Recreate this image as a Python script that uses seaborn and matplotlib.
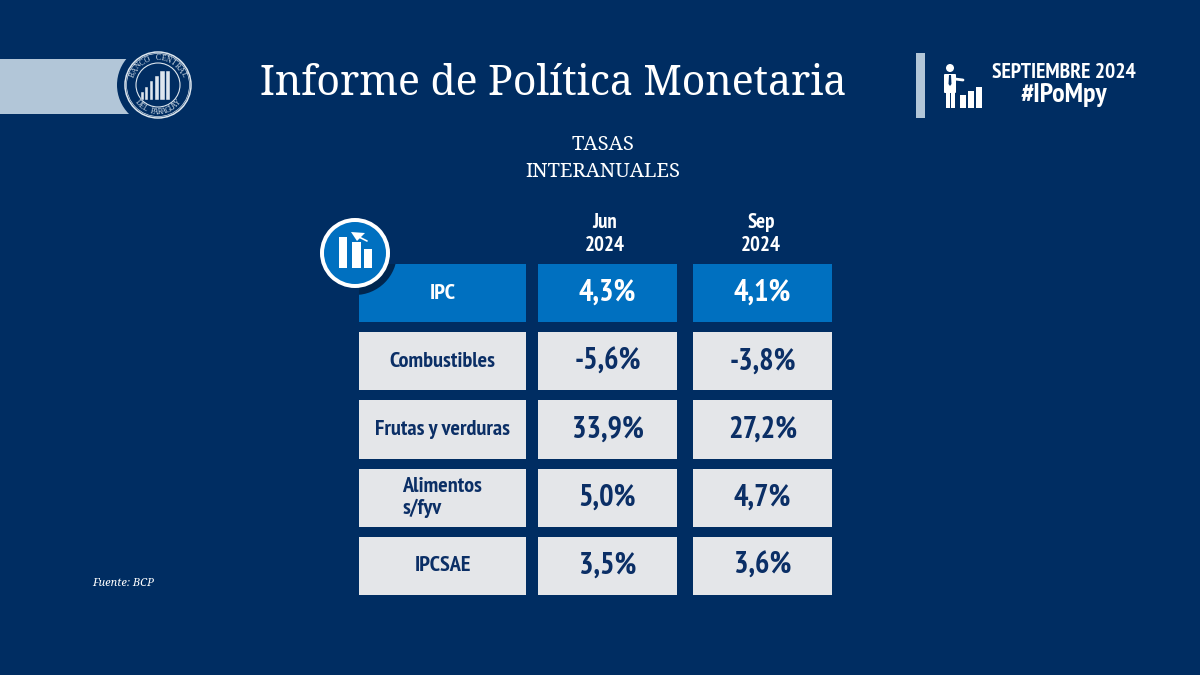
import numpy as np
import matplotlib
matplotlib.use('Agg')
import matplotlib.pyplot as plt
import seaborn as sns
from matplotlib import font_manager as fm
from matplotlib.colors import ListedColormap
from matplotlib.patches import Circle, Rectangle, Polygon, FancyBboxPatch

# Table data
categories = ['IPC', 'Combustibles', 'Frutas y verduras', 'Alimentos\ns/fyv', 'IPCSAE']
jun_2024 = [4.3, -5.6, 33.9, 5.0, 3.5]
sep_2024 = [4.1, -3.8, 27.2, 4.7, 3.6]
col_headers = ['Jun\n2024', 'Sep\n2024']
headline_row = [1, 0, 0, 0, 0]

BG = '#002D62'
BLUE = '#0070C0'
GREY = '#E4E6E9'
NAVY = '#0B2F66'
PALE = '#B2C6D8'

sns.set_theme(style='white')

# narrow face if the machine has one, otherwise shrink Open Sans so it still fits
installed = {f.name for f in fm.fontManager.ttflist}
NARROW = 'PT Sans Narrow' if 'PT Sans Narrow' in installed else 'Open Sans'
k = 1.0 if NARROW == 'PT Sans Narrow' else 0.78
SERIF = 'Noto Serif' if 'Noto Serif' in installed else 'Liberation Serif'
k_serif = 1.0 if SERIF == 'Noto Serif' else 1.14

W, H = 1200, 675
fig = plt.figure(figsize=(12, 6.75), dpi=100, facecolor=BG)

# full figure layer in pixel coords for the header and icons
bg = fig.add_axes([0, 0, 1, 1], zorder=0)
bg.set_xlim(0, W)
bg.set_ylim(H, 0)
bg.axis('off')


def table_col(x0, x1, labels):
    # 10px lines between cells, half of it sits outside the cell
    ax = fig.add_axes([(x0 - 5) / W, 1 - 600 / H, (x1 - x0 + 10) / W, 341 / H], zorder=1)
    ax.patch.set_alpha(0)
    cell = np.array(headline_row).reshape(-1, 1)
    txt = np.array(labels, dtype=object).reshape(-1, 1)
    sns.heatmap(cell, ax=ax, cmap=ListedColormap([GREY, BLUE]), vmin=0, vmax=1, cbar=False,
                annot=txt, fmt='', linewidths=7.2, linecolor=BG,
                xticklabels=False, yticklabels=False)
    for t, flag in zip(ax.texts, headline_row):
        t.set_color('white' if flag else NAVY)
    return ax


def pct(vals):
    return [f'{v:.1f}%'.replace('.', ',') for v in vals]


ax_cat = table_col(359, 526, categories)
ax_jun = table_col(538, 677, pct(jun_2024))
ax_sep = table_col(693, 832, pct(sep_2024))
for t in ax_cat.texts:
    t.set(family=NARROW, weight='bold', fontsize=16 * k, multialignment='left', linespacing=1.2)
for ax in (ax_jun, ax_sep):
    for t in ax.texts:
        t.set(family=NARROW, weight='bold', fontsize=22 * k)

# titles
bg.text(553, 84, 'Informe de Política Monetaria', family=SERIF, weight='bold', fontsize=29.5 * k_serif,
        color='white', ha='center', va='center')
bg.text(603, 145, 'TASAS', family=SERIF, weight='bold', fontsize=14.5 * k_serif, color='white', ha='center', va='center')
bg.text(603, 172, 'INTERANUALES', family=SERIF, weight='bold', fontsize=14.5 * k_serif, color='white', ha='center', va='center')
for cx, label in zip([605, 761], col_headers):
    bg.text(cx, 234, label, family=NARROW, weight='bold', fontsize=15 * k, color='white',
            ha='center', va='center', linespacing=1.25)
bg.text(92, 584, 'Fuente: BCP', family=SERIF, style='italic', fontsize=8, color='white', ha='left', va='center')

# left banner and seal
bg.add_patch(Rectangle((0, 59), 135, 55, color=PALE, lw=0))
bg.add_patch(Circle((158, 85), 41, color=BG, lw=0))
bg.add_patch(Circle((158, 85), 33, fc='none', ec='#DDE6EE', lw=1.1))
bg.add_patch(Circle((158, 85), 31.5, fc='none', ec='#DDE6EE', lw=0.5))
bg.add_patch(Circle((158, 85), 22, fc='none', ec='#DDE6EE', lw=0.8))
for x, top_y, bw in [(141, 92, 3), (145, 87, 3), (150, 81, 3), (155, 76, 4), (160, 71, 5), (166, 71, 4)]:
    bg.add_patch(Rectangle((x, top_y), bw, 100 - top_y, fc='#DDE6EE', ec=BG, lw=0.3))


def arc_text(s, start, end, flip=False):
    for ch, a in zip(s, np.linspace(start, end, len(s))):
        r = np.radians(a)
        rot = a - 90 if not flip else a + 90
        bg.text(158 + 27 * np.cos(r), 85 - 27 * np.sin(r), ch, family='Liberation Serif', fontsize=5.5,
                color='#DDE6EE', rotation=rot, rotation_mode='anchor', ha='center', va='center')


arc_text('BANCO CENTRAL', 158, 22)
arc_text('DEL PARAGUAY', 222, 318, flip=True)

# right block
bg.add_patch(Rectangle((916, 53), 9, 65, color=PALE, lw=0))
bg.add_patch(Circle((950, 68), 4, color='white', lw=0))
bg.add_patch(FancyBboxPatch((945, 75), 10, 17, boxstyle='round,pad=1', color='white', lw=0))
bg.add_patch(Rectangle((946, 90), 3.5, 18, color='white', lw=0))
bg.add_patch(Rectangle((951, 90), 3.5, 18, color='white', lw=0))
bg.plot([955, 963], [79, 80], color='white', lw=2, solid_capstyle='round')
bg.add_patch(Polygon([(949, 75), (951, 75), (951.5, 84), (950, 86), (948.5, 84)], color=BG, lw=0))
for x, top_y in [(960, 95), (968, 91), (976, 87)]:
    bg.add_patch(Rectangle((x, top_y), 6, 108 - top_y, color='white', lw=0))
bg.text(1064, 72, 'SEPTIEMBRE 2024', family=NARROW, weight='bold', fontsize=15.5 * k, color='white',
        ha='center', va='center')
bg.text(1064, 95, '#IPoMpy', family=NARROW, weight='bold', fontsize=20 * k, color='white',
        ha='center', va='center')

# round icon on the table corner, has to sit above the cells
top = fig.add_axes([0, 0, 1, 1], zorder=2)
top.set_xlim(0, W)
top.set_ylim(H, 0)
top.axis('off')
notch = Circle((355, 253), 42, color='#00264F', lw=0)
top.add_patch(notch)
notch.set_clip_path(Rectangle((359, 264), 167, 58, transform=top.transData))
top.add_patch(Circle((355, 253), 35, color='white', lw=0))
top.add_patch(Circle((355, 253), 31, color=BLUE, lw=0))
for x0, x1, y0 in [(339, 347, 237), (352, 361, 242), (364, 372, 249)]:
    top.add_patch(Rectangle((x0, y0), x1 - x0, 268 - y0, color='white', lw=0))
top.add_patch(Polygon([(351, 232), (365, 233), (357, 241)], color='white', lw=0))
top.plot([357, 367], [236, 241], color='white', lw=1.2)

fig.savefig('out.png', dpi=100, facecolor=BG)
